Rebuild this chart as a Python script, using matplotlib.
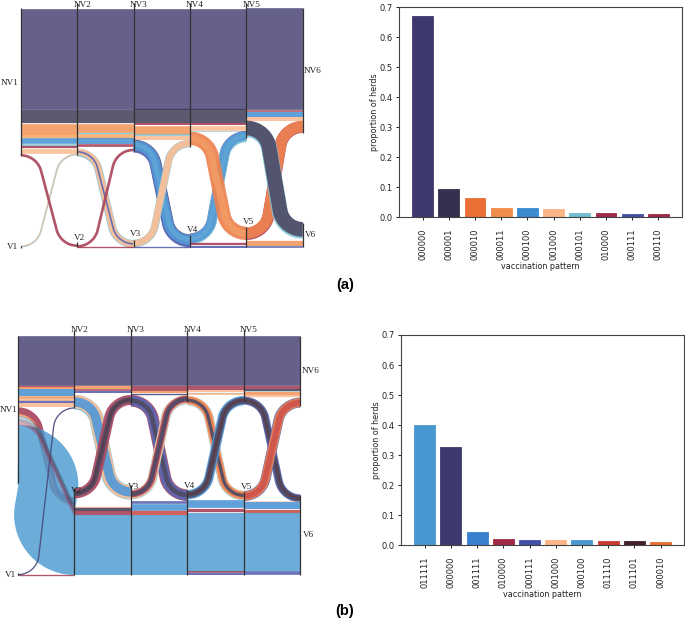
import numpy as np
import matplotlib
matplotlib.use("Agg")
import matplotlib.pyplot as plt
from matplotlib.colors import to_rgb
from matplotlib.path import Path
from matplotlib.patches import PathPatch

W, H, DPI = 685, 621, 100
STAGE_UNITS = 169.0   # width of one stage, in flow units
RADIUS = 62.0         # bend radius of a thin link, in flow units
RADIUS_GROWTH = 0.16  # extra bend radius per unit of link width

# palette
PUR = '#3e3a6d'; DRK = '#34304e'; ORG = '#ea6f35'; LOR = '#f08c4c'; BLU = '#3a8ad0'
PCH = '#fcb588'; TEA = '#70bcd0'; CRM = '#9e2a45'; IND = '#4450a8'; RED = '#c83a32'
MAR = '#40202e'; SKY = '#4798d0'; MBL = '#3a80d0'; NAV = '#2f2f6a'

# flows: (band top at left node, band top at right node, band width, colour), per stage
a_flows = [
    [(25, 25, 302, PUR), (327, 327, 40, DRK), (370, 370, 32, LOR), (402, 402, 13, '#f4a05a'), (415, 415, 17, BLU),
     (432, 432, 5, TEA), (437, 437, 7, CRM), (446, 446, 14, PCH),
     (737, 461, 5, TEA), (737, 461, 3, PCH), (462, 733, 8, CRM)],
    [(25, 25, 302, PUR), (327, 327, 40, DRK), (370, 370, 26, LOR), (396, 396, 4, TEA), (400, 400, 14, '#f4a05a'),
     (414, 414, 18, BLU), (432, 432, 8, CRM),
     (446, 720, 24, TEA), (446, 722, 20, PCH), (453, 729, 5, IND), (735, 446, 8, CRM), (740, 740, 4, CRM)],
    [(25, 25, 302, PUR), (327, 327, 43, DRK), (370, 370, 6, CRM), (376, 376, 26, LOR), (403, 403, 5, TEA), (408, 408, 12, PCH),
     (419, 703, 35, NAV), (423, 707, 35, IND), (421, 705, 30, BLU), (427, 711, 14, SKY),
     (719, 419, 23, TEA), (720, 420, 20, PCH), (740, 740, 4, IND)],
    [(25, 25, 302, PUR), (327, 327, 43, DRK), (370, 370, 6, CRM), (378, 378, 14, PCH), (392, 392, 2, TEA),
     (700, 393, 30, IND), (703, 397, 30, TEA), (703, 395, 26, BLU), (710, 402, 12, SKY),
     (395, 680, 40, ORG), (405, 690, 20, LOR),
     (730, 730, 7, CRM), (737, 737, 6, IND)],
    [(25, 25, 305, PUR), (330, 330, 5, CRM), (335, 335, 15, BLU), (350, 350, 12, PCH),
     (684, 363, 36, CRM), (682, 363, 34, ORG), (364, 668, 48, TEA), (362, 666, 44, DRK),
     (722, 722, 16, LOR), (738, 738, 5, IND)],
]
b_flows = [
    [(48, 48, 149, PUR), (197, 197, 4, CRM), (201, 201, 6, LOR), (207, 207, 21, BLU), (228, 228, 8, LOR), (236, 236, 7, PCH),
     (243, 243, 7, IND), (250, 250, 12, PCH),
     (762, 762, 4, CRM),
     (262, 532, 21, CRM), (283, 553, 5, LOR),
     (315, 585, 180, SKY), (762, 262, 4, NAV)],
    [(48, 48, 149, PUR), (197, 197, 10, LOR), (207, 207, 5, CRM), (212, 212, 6, IND),
     (225, 495, 44, TEA), (225, 497, 40, PCH), (232, 502, 28, BLU),
     (505, 225, 30, CRM), (512, 232, 16, DRK), (516, 236, 6, MAR),
     (558, 558, 4, PCH), (562, 562, 10, DRK), (572, 572, 13, CRM), (585, 585, 180, SKY)],
    [(48, 48, 149, PUR), (197, 197, 15, CRM), (212, 212, 6, LOR), (220, 220, 4, NAV),
     (225, 508, 35, CRM), (228, 511, 30, IND), (235, 518, 14, DRK),
     (510, 225, 28, TEA), (510, 225, 26, PCH), (512, 227, 20, CRM), (516, 231, 12, DRK),
     (542, 542, 8, IND), (552, 552, 20, BLU), (572, 572, 13, RED), (585, 585, 180, SKY)],
    [(48, 48, 149, PUR), (197, 197, 13, CRM), (210, 210, 6, PCH), (216, 216, 4, TEA), (220, 220, 6, PCH),
     (228, 513, 28, TEA), (228, 513, 26, PCH), (230, 515, 22, ORG), (236, 521, 10, DRK),
     (510, 228, 28, BLU), (514, 232, 20, DRK), (519, 237, 8, MAR),
     (542, 542, 23, BLU), (565, 565, 10, CRM), (578, 578, 177, SKY), (755, 755, 5, CRM), (760, 760, 6, IND)],
    [(48, 48, 149, PUR), (197, 197, 10, CRM), (207, 207, 6, DRK), (213, 213, 2, TEA), (215, 215, 10, LOR), (225, 225, 7, PCH),
     (230, 523, 24, IND), (233, 526, 18, DRK), (238, 531, 6, MAR),
     (513, 233, 30, IND), (515, 235, 26, ORG), (519, 239, 18, RED),
     (543, 543, 2, PCH), (545, 545, 21, BLU), (568, 568, 10, RED), (580, 580, 175, SKY), (755, 755, 11, IND)],
]
# thin NV1 to V2 links that show through the large link as near-straight stripes
b_stripes = [(288, 558, 4, DRK), (292, 562, 4, TEA), (296, 566, 9, DRK), (305, 575, 10, CRM)]

# node extents: (top, bottom) of the unvaccinated and vaccinated nodes per column
a_nv_nodes = [(25, 465), (8, 466), (8, 452), (8, 440), (8, 415), (25, 398)]
a_v_nodes = [(738, 744), (726, 742), (720, 742), (705, 742), (680, 742), (668, 742)]
b_nv_nodes = [(48, 490), (30, 265), (30, 252), (30, 247), (30, 247), (48, 257)]
b_v_nodes = [(760, 766), (505, 766), (495, 766), (510, 766), (515, 766), (525, 766)]

patterns_a = ['000000', '000001', '000010', '000011', '000100', '001000', '000101', '010000', '000111', '000110']
values_a = [0.67, 0.094, 0.064, 0.032, 0.032, 0.028, 0.015, 0.014, 0.012, 0.012]
colors_a = [PUR, DRK, ORG, LOR, BLU, PCH, TEA, CRM, IND, CRM]
patterns_b = ['011111', '000000', '001111', '010000', '000111', '001000', '000100', '011110', '011101', '000010']
values_b = [0.40, 0.326, 0.045, 0.022, 0.018, 0.018, 0.016, 0.014, 0.013, 0.011]
colors_b = [SKY, PUR, MBL, CRM, IND, PCH, SKY, RED, MAR, ORG]

nv_labels = ['NV1', 'NV2', 'NV3', 'NV4', 'NV5', 'NV6']
v_labels = ['V1', 'V2', 'V3', 'V4', 'V5', 'V6']

fig = plt.figure(figsize=(W / DPI, H / DPI), dpi=DPI)


def px_axes(x0, y0, x1, y1):
    return fig.add_axes([x0 / W, 1 - y1 / H, (x1 - x0) / W, (y1 - y0) / H])


def soften(color, share):
    return tuple(np.array(to_rgb(color)) * (1 - share) + share)


def link_path(stage, y0, y1, width):
    """Horizontal out of each node, a circular bend, and a straight run between."""
    if y0 == y1:
        return Path([(stage, y0), (stage + 1, y1)])
    r = RADIUS + RADIUS_GROWTH * width
    s = np.sign(y1 - y0)
    span = abs(y1 - y0) - 2 * r
    dist = np.hypot(STAGE_UNITS, span)
    theta = np.arctan2(STAGE_UNITS, span) - np.arcsin(2 * r / dist)
    a = np.linspace(0, np.pi / 2 - theta, 60)
    x_in = r * np.sin(a)
    y_in = s * r * (1 - np.cos(a))
    xs = np.r_[x_in, STAGE_UNITS - x_in[::-1]] / STAGE_UNITS + stage
    ys = np.r_[y0 + y_in, y1 - y_in[::-1]]
    return Path(np.c_[xs, ys])


def sankey(rect, flows, nv_nodes, v_nodes, ylim, nv_lab, v_lab, stripes=()):
    ax = px_axes(*rect)
    ax.set_xlim(0, 5)
    ax.set_ylim(ylim[1], ylim[0])
    ax.axis('off')
    scale = (rect[3] - rect[1]) / (ylim[1] - ylim[0]) * 72 / DPI  # points per flow unit
    for stage, links in enumerate(flows):
        for t0, t1, w, c in links:
            path = link_path(stage, t0 + w / 2, t1 + w / 2, w)
            if t0 == t1 or w > 100:
                ec, alpha = c, 0.8
            else:
                ec, alpha = soften(c, 0.13), 0.92  # curved links keep their hue when stacked
            ax.add_patch(PathPatch(path, fc='none', ec=ec, lw=w * scale, alpha=alpha,
                                   capstyle='butt', joinstyle='round', clip_on=False))
    for t0, t1, w, c in stripes:
        y0, y1 = t0 + w / 2, t1 + w / 2
        path = Path([(0, y0), (0.2, y0), (0.37, y0 + 0.13 * (y1 - y0)), (1, y1)],
                    [Path.MOVETO, Path.CURVE3, Path.CURVE3, Path.LINETO])
        ax.add_patch(PathPatch(path, fc='none', ec=c, lw=w * scale, alpha=0.4,
                               capstyle='butt', clip_on=False))
    for i in range(6):
        for top, bot in (nv_nodes[i], v_nodes[i]):
            ax.plot([i, i], [top, bot], color='#333333', lw=0.9, solid_capstyle='butt', clip_on=False)
    for labels, places in ((nv_labels, nv_lab), (v_labels, v_lab)):
        for i in range(6):
            x, y = places[i]
            ax.text(x, y, labels[i], ha='center', va='center', family='Liberation Serif', fontsize=6.6,
                    color='#222222', clip_on=False, zorder=10)
    return ax


def bars(rect, labels, values, colors):
    ax = px_axes(*rect)
    ax.bar(labels, values, width=0.8, color=colors, edgecolor=colors, linewidth=0.6)
    ax.set_ylim(0, 0.7)
    ax.tick_params(axis='both', labelsize=6, length=2.5, width=0.7, colors='#222222')
    ax.tick_params(axis='x', labelrotation=90, pad=5.5)
    ax.tick_params(axis='y', pad=2.5)
    ax.set_xlabel('vaccination pattern', fontsize=5.8, labelpad=1.2, color='#222222')
    ax.set_ylabel('proportion of herds', fontsize=5.8, labelpad=0, color='#222222')
    for s in ax.spines.values():
        s.set_linewidth(0.8)
        s.set_color('#444444')
    return ax


sankey((20.7, 8.3, 302.7, 247.3), a_flows, a_nv_nodes, a_v_nodes, (25, 742),
       [(-0.19, 248), (1.09, 14), (2.09, 14), (3.09, 14), (4.09, 14), (5.18, 212)],
       [(-0.14, 740), (1.04, 714), (2.03, 702), (3.04, 690), (4.04, 667), (5.14, 705)])
sankey((18, 336, 300.3, 575.3), b_flows, b_nv_nodes, b_v_nodes, (48, 766),
       [(-0.165, 271), (1.09, 30), (2.09, 30), (3.09, 30), (4.09, 30), (5.19, 152)],
       [(-0.13, 764), (1.04, 514), (2.04, 501), (3.04, 497), (4.04, 501), (5.14, 646)],
       stripes=b_stripes)

bars((399.3, 7.3, 681.7, 217.3), patterns_a, values_a, colors_a)
bars((401.3, 335, 684, 545.3), patterns_b, values_b, colors_b)

fig.text(345 / W, 1 - 285 / H, '(a)', ha='center', va='center', fontsize=10.5, fontweight='bold', family='Liberation Sans')
fig.text(345 / W, 1 - 611 / H, '(b)', ha='center', va='center', fontsize=10.5, fontweight='bold', family='Liberation Sans')

fig.savefig('out.png', dpi=DPI)
